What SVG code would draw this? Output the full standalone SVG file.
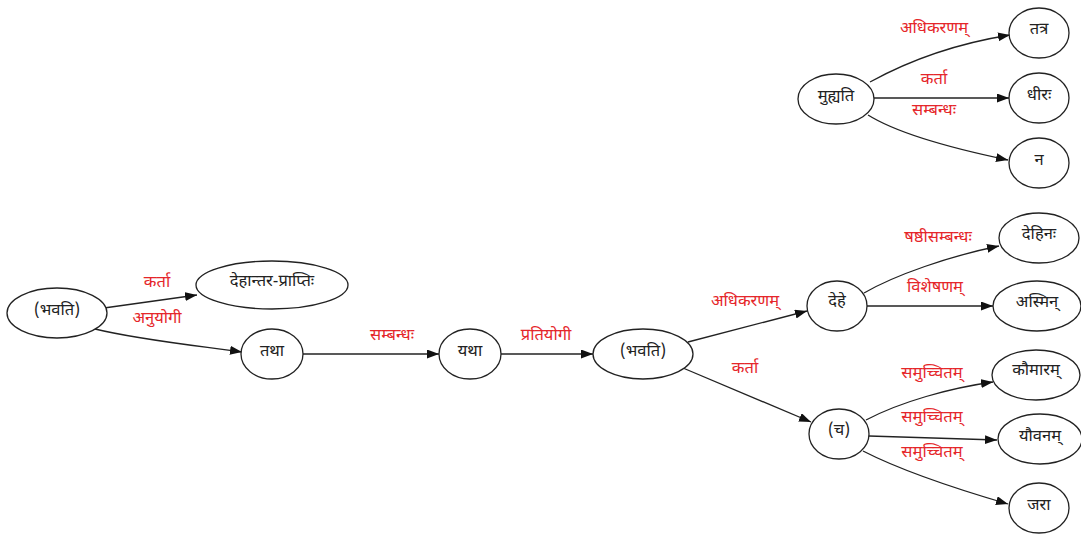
<svg xmlns="http://www.w3.org/2000/svg" width="1081" height="539" viewBox="0 0 1081 539">
<style>
.n ellipse{fill:#fff;stroke:#222;stroke-width:1.3}
.n text{font-family:"Noto Sans Devanagari","Noto Sans","DejaVu Sans",sans-serif;font-size:16.5px;fill:#222;text-anchor:middle;dominant-baseline:central}
.e path{fill:none;stroke:#222;stroke-width:1.3;marker-end:url(#ah)}
.e text{font-family:"Noto Sans Devanagari","Noto Sans","DejaVu Sans",sans-serif;font-size:16.5px;fill:#e5262a;text-anchor:middle;dominant-baseline:central}
</style>
<defs>
<marker id="ah" markerUnits="userSpaceOnUse" markerWidth="13" markerHeight="10" refX="12" refY="4.5" orient="auto">
<path d="M0,0 L12,4.5 L0,9 z" fill="#111"/>
</marker>
</defs>
<rect width="1081" height="539" fill="#fff"/>
<g class="e" id="edges">
<path d="M104,308 L197,295"/><text x="157" y="283">कर्ता</text>
<path d="M95,329 C140,340 200,346 242,352"/><text x="157" y="319">अनुयोगी</text>
<path d="M303,354 L439,354"/><text x="392" y="336">सम्बन्धः</text>
<path d="M501,354 L593,354"/><text x="546" y="336">प्रतियोगी</text>
<path d="M688,342 L807,311"/><text x="745" y="302">अधिकरणम्</text>
<path d="M683,368 L811,422"/><text x="745" y="369">कर्ता</text>
<path d="M864,293 C895,275 950,256 999,246"/><text x="938" y="238">षष्ठीसम्बन्धः</text>
<path d="M867,306 L993,306"/><text x="935" y="288">विशेषणम्</text>
<path d="M866,420 C900,402 950,388 993,382"/><text x="932" y="374">समुच्चितम्</text>
<path d="M869,436 L997,440"/><text x="932" y="418">समुच्चितम्</text>
<path d="M863,451 C900,470 960,490 1008,504"/><text x="932" y="453">समुच्चितम्</text>
<path d="M870,82 C910,60 960,43 1010,35"/><text x="934" y="29">अधिकरणम्</text>
<path d="M874,98 L1009,98"/><text x="934" y="80">कर्ता</text>
<path d="M868,115 C900,135 960,150 1008,160"/><text x="934" y="111">सम्बन्धः</text>
</g>
<g class="n" id="n1"><ellipse cx="57" cy="313" rx="50" ry="25"/><text x="57" y="311">(भवति)</text></g>
<g class="n" id="n2"><ellipse cx="272" cy="285" rx="76" ry="24"/><text x="272" y="282">देहान्तर-प्राप्तिः</text></g>
<g class="n" id="n3"><ellipse cx="272" cy="354" rx="31" ry="25"/><text x="272" y="352">तथा</text></g>
<g class="n" id="n4"><ellipse cx="470" cy="354" rx="31" ry="25"/><text x="470" y="352">यथा</text></g>
<g class="n" id="n5"><ellipse cx="643" cy="354" rx="50" ry="25"/><text x="643" y="352">(भवति)</text></g>
<g class="n" id="n6"><ellipse cx="837" cy="306" rx="30" ry="25"/><text x="837" y="302">देहे</text></g>
<g class="n" id="n7"><ellipse cx="839" cy="434" rx="30" ry="25"/><text x="839" y="431">(च)</text></g>
<g class="n" id="n8"><ellipse cx="836" cy="99" rx="38" ry="25"/><text x="836" y="97">मुह्यति</text></g>
<g class="n" id="n9"><ellipse cx="1039" cy="33" rx="30" ry="25"/><text x="1039" y="30">तत्र</text></g>
<g class="n" id="n10"><ellipse cx="1039" cy="98" rx="30" ry="25"/><text x="1039" y="96">धीरः</text></g>
<g class="n" id="n11"><ellipse cx="1039" cy="163" rx="30" ry="25"/><text x="1039" y="161">न</text></g>
<g class="n" id="n12"><ellipse cx="1039" cy="238" rx="40" ry="25"/><text x="1039" y="235">देहिनः</text></g>
<g class="n" id="n13"><ellipse cx="1037" cy="306" rx="44" ry="25"/><text x="1037" y="303">अस्मिन्</text></g>
<g class="n" id="n14"><ellipse cx="1036" cy="375" rx="44" ry="25"/><text x="1036" y="371">कौमारम्</text></g>
<g class="n" id="n15"><ellipse cx="1040" cy="439" rx="42" ry="25"/><text x="1040" y="437">यौवनम्</text></g>
<g class="n" id="n16"><ellipse cx="1039" cy="508" rx="30" ry="25"/><text x="1039" y="506">जरा</text></g>
</svg>
